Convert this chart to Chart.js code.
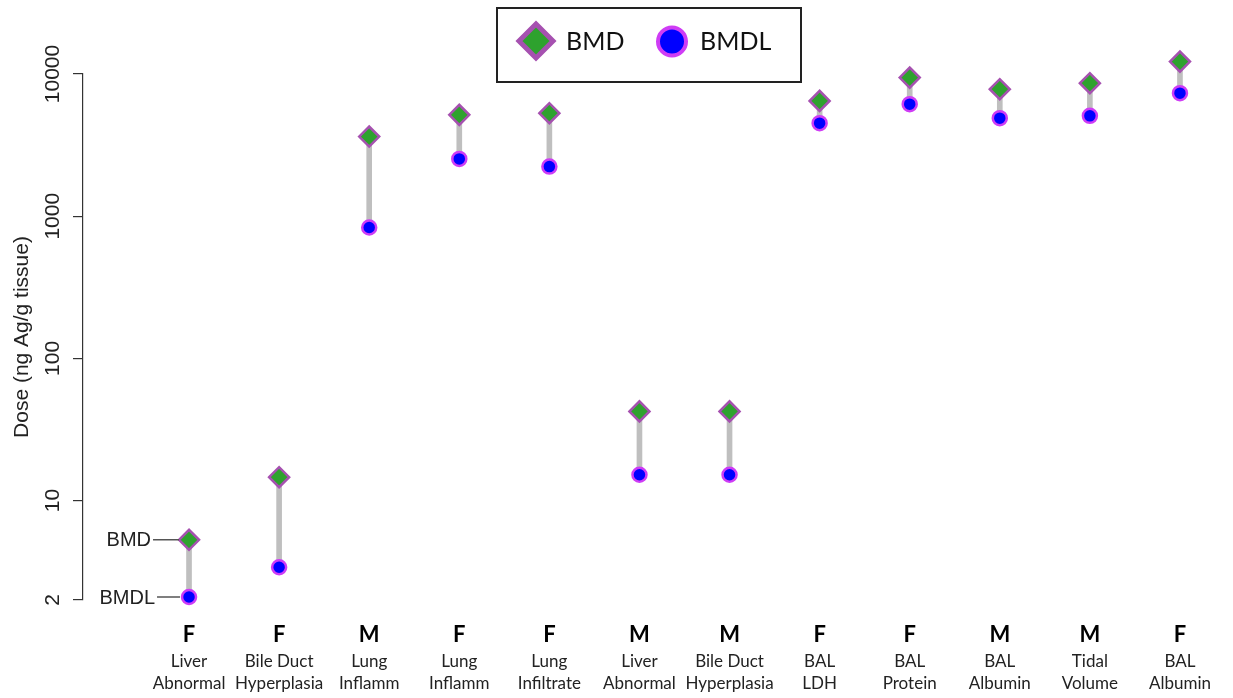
<!DOCTYPE html>
<html>
<head>
<meta charset="utf-8">
<script src="https://cdn.jsdelivr.net/npm/chart.js@4.4.0/dist/chart.umd.min.js"></script>
<style>
  body { margin: 0; background: #fff; }
  #wrap { width: 1233px; height: 698px; }
</style>
</head>
<body>
<div id="wrap"><canvas id="chart" width="1233" height="698"></canvas></div>
<script>
// data
const sexes = ["F", "F", "M", "F", "F", "M", "M", "F", "F", "M", "M", "F"];
const endpoints = [
  ["Liver", "Abnormal"],
  ["Bile Duct", "Hyperplasia"],
  ["Lung", "Inflamm"],
  ["Lung", "Inflamm"],
  ["Lung", "Infiltrate"],
  ["Liver", "Abnormal"],
  ["Bile Duct", "Hyperplasia"],
  ["BAL", "LDH"],
  ["BAL", "Protein"],
  ["BAL", "Albumin"],
  ["Tidal", "Volume"],
  ["BAL", "Albumin"],
];
const bmd = [5.3, 14.6, 3630, 5160, 5300, 42.4, 42.4, 6470, 9430, 7820, 8620, 12220];
const bmdl = [2.1, 3.4, 833, 2530, 2234, 15.2, 15.2, 4510, 6135, 4890, 5080, 7330];
const yTicks = [2, 10, 100, 1000, 10000];

const positions = sexes.map((s, i) => i + 1);

const GREEN = "#2ea22e";
const DIAMOND_EDGE = "#a651b0";
const BLUE = "#0000ff";
const CIRCLE_EDGE = "#cf3cf5";
const X_MIN = -0.177;
const X_MAX = 12.45;

// legend box at the top, drawn by hand like the original
const legendBox = {
  id: "legendBox",
  afterDraw(chart) {
    const ctx = chart.ctx;
    ctx.save();
    ctx.strokeStyle = "#222";
    ctx.lineWidth = 2;
    ctx.strokeRect(497, 8, 304, 74);

    // diamond
    ctx.beginPath();
    ctx.moveTo(536, 24);
    ctx.lineTo(553, 41);
    ctx.lineTo(536, 58);
    ctx.lineTo(519, 41);
    ctx.closePath();
    ctx.fillStyle = GREEN;
    ctx.fill();
    ctx.lineWidth = 5;
    ctx.strokeStyle = DIAMOND_EDGE;
    ctx.stroke();

    // circle
    ctx.beginPath();
    ctx.arc(672, 41.5, 14, 0, Math.PI * 2);
    ctx.fillStyle = BLUE;
    ctx.fill();
    ctx.lineWidth = 4;
    ctx.strokeStyle = CIRCLE_EDGE;
    ctx.stroke();

    ctx.fillStyle = "#111";
    ctx.font = "25px Lato";
    ctx.textBaseline = "middle";
    ctx.textAlign = "left";
    ctx.fillText("BMD", 566, 42);
    ctx.fillText("BMDL", 700, 42);
    ctx.restore();
  },
};

// "BMD —" / "BMDL —" pointers at the first pair, plus the bold F/M row
const pointers = {
  id: "pointers",
  afterDraw(chart) {
    const ctx = chart.ctx;
    const xs = chart.scales.x;
    const ys = chart.scales.y;
    const px = xs.getPixelForValue(positions[0]);
    const yTop = ys.getPixelForValue(bmd[0]);
    const yBot = ys.getPixelForValue(bmdl[0]);
    ctx.save();
    ctx.strokeStyle = "#555";
    ctx.lineWidth = 1.5;
    ctx.beginPath();
    ctx.moveTo(px - 36, yTop);
    ctx.lineTo(px - 10, yTop);
    ctx.moveTo(px - 32, yBot);
    ctx.lineTo(px - 9, yBot);
    ctx.stroke();
    ctx.fillStyle = "#222";
    ctx.font = "20px 'Liberation Sans'";
    ctx.textAlign = "right";
    ctx.textBaseline = "middle";
    ctx.fillText("BMD", px - 38, yTop + 1);
    ctx.fillText("BMDL", px - 34, yBot + 1);

    // sex of the group under each column
    ctx.fillStyle = "#000";
    ctx.font = "bold 22px Lato";
    ctx.textAlign = "center";
    const rowY = chart.chartArea.bottom + 35;
    sexes.forEach((s, i) => {
      ctx.fillText(s, xs.getPixelForValue(positions[i]), rowY);
    });
    ctx.restore();
  },
};

const setTicks = (values) => (scale) => {
  scale.ticks = values.map((v) => ({ value: v }));
};

// keep label overhang from squeezing the plot area
const noSidePadding = (scale) => {
  scale.paddingLeft = 0;
  scale.paddingRight = 0;
};

new Chart(document.getElementById("chart"), {
  data: {
    datasets: [
      {
        type: "scatter",
        label: "BMD",
        data: positions.map((x, i) => ({ x: x, y: bmd[i] })),
        pointStyle: "rectRot",
        pointRadius: 10,
        backgroundColor: GREEN,
        borderColor: DIAMOND_EDGE,
        borderWidth: 2.5,
        clip: false,
        order: 1,
      },
      {
        type: "scatter",
        label: "BMDL",
        data: positions.map((x, i) => ({ x: x, y: bmdl[i] })),
        pointStyle: "circle",
        pointRadius: 7,
        backgroundColor: BLUE,
        borderColor: CIRCLE_EDGE,
        borderWidth: 2.5,
        clip: false,
        order: 2,
      },
      {
        type: "bar",
        label: "range",
        data: positions.map((x, i) => ({ x: x, y: [bmdl[i], bmd[i]] })),
        backgroundColor: "#bfbfbf",
        barThickness: 5,
        clip: false,
        order: 3,
      },
    ],
  },
  options: {
    responsive: false,
    animation: false,
    events: [],
    layout: { padding: { top: 74, right: 8, left: 0, bottom: 0 } },
    plugins: {
      legend: { display: false },
      tooltip: { enabled: false },
    },
    scales: {
      // data axis, not shown
      x: {
        type: "linear",
        display: false,
        offset: false,
        min: X_MIN,
        max: X_MAX,
        afterFit: noSidePadding,
        grid: { offset: false },
      },
      // endpoint names
      x2: {
        type: "linear",
        position: "bottom",
        offset: false,
        min: X_MIN,
        max: X_MAX,
        afterBuildTicks: setTicks(positions),
        afterFit: (scale) => {
          scale.height = 98;
          noSidePadding(scale);
        },
        grid: { display: false, drawTicks: false, offset: false },
        border: { display: false },
        ticks: {
          autoSkip: false,
          maxRotation: 0,
          minRotation: 0,
          padding: 51,
          color: "#222",
          font: { family: "Lato", size: 17, lineHeight: 22 / 17 },
          callback: (v) => endpoints[Math.round(v) - 1],
        },
      },
      y: {
        type: "logarithmic",
        min: 2,
        max: 10000,
        afterBuildTicks: setTicks(yTicks),
        afterFit: (scale) => { scale.width = 83; },
        grid: {
          display: true,
          drawOnChartArea: false,
          drawTicks: true,
          tickLength: 10,
          color: "#333",
          lineWidth: 1.2,
        },
        border: { display: true, color: "#333", width: 1.2 },
        ticks: {
          autoSkip: false,
          minRotation: 90,
          maxRotation: 90,
          crossAlign: "center",
          padding: -9,
          color: "#222",
          font: { family: "'Liberation Sans'", size: 21 },
          callback: (v) => String(v),
        },
        title: {
          display: true,
          text: "Dose (ng Ag/g tissue)",
          color: "#222",
          padding: { top: 10, bottom: 0 },
          font: { family: "'Liberation Sans'", size: 21 },
        },
      },
    },
  },
  plugins: [legendBox, pointers],
});
</script>
</body>
</html>
